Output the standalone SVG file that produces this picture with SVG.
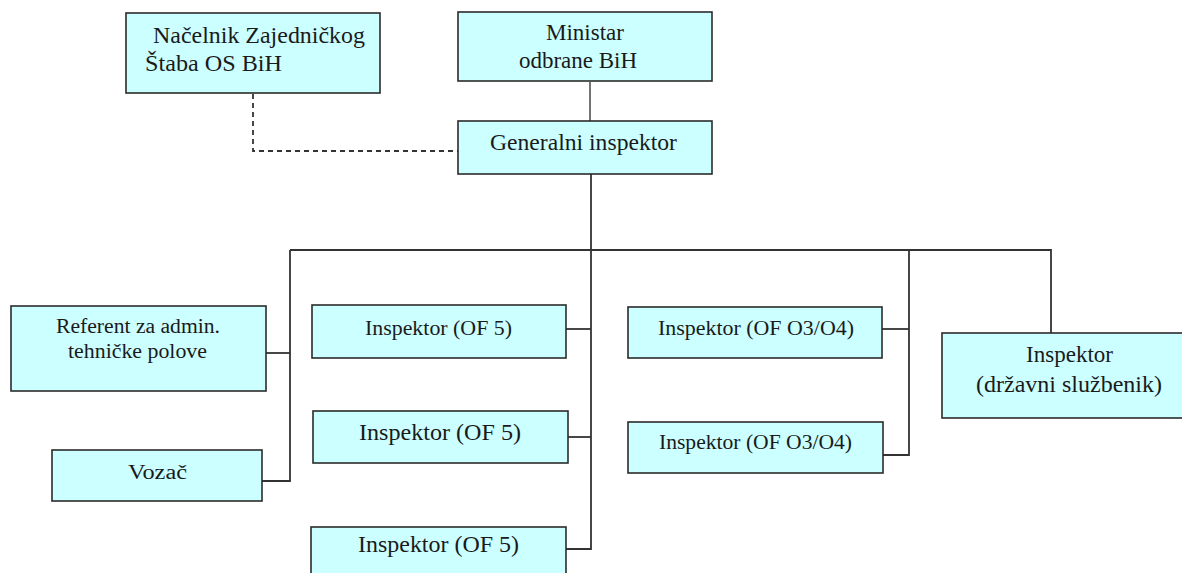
<svg xmlns="http://www.w3.org/2000/svg" width="1182" height="573" viewBox="0 0 1182 573">
<style>
.box{fill:#ccffff;stroke:#2b2b2b;stroke-width:1.6}
.t{font-family:'Liberation Serif','DejaVu Serif','Times New Roman',serif;font-size:23px;fill:#1a1a1a}
.s{font-size:20px}
.ln{fill:none;stroke:#333;stroke-width:1.8}
.gr{stroke:#666}
.dash{stroke-dasharray:5,4}
</style>
<rect width="1182" height="573" fill="#ffffff"/>
<g id="connectors">
<path class="ln dash" d="M253,94 V151 H458"/>
<path class="ln gr" d="M590,82 V121"/>
<path class="ln" d="M591,174 V549 H566"/>
<path class="ln" d="M290,250 H1051 V333"/>
<path class="ln" d="M290,250 V481 H262"/>
<path class="ln" d="M266,353 H290"/>
<path class="ln" d="M566,329 H591"/>
<path class="ln" d="M568,437 H591"/>
<path class="ln" d="M909,250 V455 H883"/>
<path class="ln" d="M882,329 H909"/>
</g>
<g id="nacelnik">
<rect class="box" x="126" y="13" width="254" height="80"/>
<text class="t" x="153" y="43" textLength="212" lengthAdjust="spacingAndGlyphs">Načelnik Zajedničkog</text>
<text class="t" x="145" y="71" textLength="137" lengthAdjust="spacingAndGlyphs">Štaba OS BiH</text>
</g>
<g id="ministar">
<rect class="box" x="458" y="12" width="254" height="69"/>
<text class="t" x="546" y="40" textLength="78" lengthAdjust="spacingAndGlyphs">Ministar</text>
<text class="t" x="519" y="68" textLength="118" lengthAdjust="spacingAndGlyphs">odbrane BiH</text>
</g>
<g id="generalni">
<rect class="box" x="458" y="121" width="254" height="53"/>
<text class="t" x="490" y="150" textLength="187" lengthAdjust="spacingAndGlyphs">Generalni inspektor</text>
</g>
<g id="referent">
<rect class="box" x="11" y="306" width="255" height="85"/>
<text class="t s" x="56" y="333" textLength="164" lengthAdjust="spacingAndGlyphs">Referent za admin.</text>
<text class="t s" x="68" y="358" textLength="139" lengthAdjust="spacingAndGlyphs">tehničke polove</text>
</g>
<g id="vozac">
<rect class="box" x="52" y="450" width="210" height="51"/>
<text class="t s" x="128" y="479" textLength="59" lengthAdjust="spacingAndGlyphs">Vozač</text>
</g>
<g id="of5-1">
<rect class="box" x="312" y="305" width="254" height="53"/>
<text class="t s" x="365" y="335" textLength="147" lengthAdjust="spacingAndGlyphs">Inspektor (OF 5)</text>
</g>
<g id="of5-2">
<rect class="box" x="313" y="411" width="255" height="52"/>
<text class="t" x="359" y="440" textLength="162" lengthAdjust="spacingAndGlyphs">Inspektor (OF 5)</text>
</g>
<g id="of5-3">
<rect class="box" x="311" y="527" width="255" height="53"/>
<text class="t" x="358" y="552" textLength="161" lengthAdjust="spacingAndGlyphs">Inspektor (OF 5)</text>
</g>
<g id="o3o4-1">
<rect class="box" x="628" y="307" width="254" height="51"/>
<text class="t s" x="658" y="335" textLength="196" lengthAdjust="spacingAndGlyphs">Inspektor (OF O3/O4)</text>
</g>
<g id="o3o4-2">
<rect class="box" x="628" y="422" width="255" height="51"/>
<text class="t s" x="659" y="449" textLength="193" lengthAdjust="spacingAndGlyphs">Inspektor (OF O3/O4)</text>
</g>
<g id="drzavni">
<rect class="box" x="942" y="333" width="242" height="85"/>
<text class="t" x="1026" y="362" textLength="87" lengthAdjust="spacingAndGlyphs">Inspektor</text>
<text class="t" x="976" y="392" textLength="186" lengthAdjust="spacingAndGlyphs">(državni službenik)</text>
</g>
</svg>
